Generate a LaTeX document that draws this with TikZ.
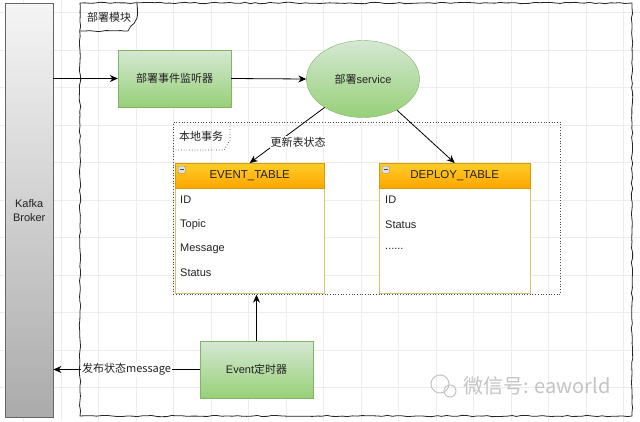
\documentclass[tikz,border=0pt]{standalone}
\usepackage{fontspec}
\setmainfont{Liberation Sans}
\newfontfamily\cjk{Noto Sans CJK SC}
\usetikzlibrary{arrows.meta,shapes.geometric,decorations.pathmorphing,calc}
\definecolor{gridc}{HTML}{EDEDED}
\definecolor{txt}{HTML}{222222}
\definecolor{gstroke}{HTML}{82B366}
\definecolor{gtop}{HTML}{D5E8D4}
\definecolor{gbot}{HTML}{97D077}
\definecolor{otop}{HTML}{FFCD28}
\definecolor{obot}{HTML}{FFA500}
\definecolor{ostroke}{HTML}{D79B00}
\definecolor{tbody}{HTML}{D6C66A}
\definecolor{wm}{HTML}{C4C4C4}
\tikzset{
  greenbox/.style={draw=gstroke, top color=gtop, bottom color=gbot, minimum width=113pt, minimum height=57pt, inner sep=0pt, font=\fontsize{11}{13}\selectfont, text=txt},
  greenell/.style={ellipse, draw=gstroke, top color=gtop, bottom color=gbot, minimum width=113pt, minimum height=77pt, inner sep=0pt, font=\fontsize{11}{13}\selectfont, text=txt},
  thead/.style={draw=ostroke, top color=otop, bottom color=obot, inner sep=0pt, font=\fontsize{11.5}{13}\selectfont, text=txt},
  tbodybox/.style={draw=tbody, fill=white, inner sep=0pt},
  rowtxt/.style={anchor=west, inner sep=0pt, font=\fontsize{11}{13}\selectfont, text=txt},
  conn/.style={draw=black, line width=0.8pt, -{Stealth[length=8pt,width=7pt]}},
  lbl/.style={fill=white, inner sep=1pt, font=\fontsize{11}{13}\selectfont, text=txt},
  sketch/.style={draw=black!85, line width=0.8pt, decorate, decoration={random steps, segment length=5pt, amplitude=0.7pt}},
}
\begin{document}
\begin{tikzpicture}[x=1pt,y=-1pt]
\useasboundingbox (0,0) rectangle (640,421);
\fill[white] (0,0) rectangle (640,421);
% grid
\foreach \i in {0,...,16} \draw[gridc, line width=0.6pt] ({23.5+37.5*\i},0) -- ({23.5+37.5*\i},421);
\foreach \j in {0,...,10} \draw[gridc, line width=0.6pt] (0,{12.5+37.5*\j}) -- (640,{12.5+37.5*\j});
% Kafka broker
\node[draw=black!60, top color=black!4, bottom color=black!33, minimum width=48pt, minimum height=414pt, inner sep=0pt, anchor=north west, align=center, font=\fontsize{11}{14}\selectfont, text=txt] (kafka) at (5,3) {Kafka\\Broker};
% module frame
\pgfmathsetseed{7}
\coordinate (fnw) at (80,3);
\coordinate (fse) at (632,416);
\draw[sketch] (fnw) -- (fnw -| fse) -- (fse) -- (fse -| fnw) -- cycle;
\draw[sketch] (80,31) -- (128,31) -- (137,18) -- (137,3);
\node[anchor=west, inner sep=0pt, font=\cjk\fontsize{11}{13}\selectfont, text=txt] (modlbl) at (87,17) {部署模块};
% local transaction box
\node[draw=black!70, dotted, line width=0.7pt, minimum width=387pt, minimum height=172pt, anchor=north west, inner sep=0pt] (tx) at (173,122) {};
\draw[black!70, dotted, line width=0.7pt] (173,150) -- (224,150) -- (230,140) -- (230,122);
\node[anchor=west, inner sep=0pt, font=\cjk\fontsize{11}{13}\selectfont, text=txt] (txlbl) at (179,136) {本地事务};
% listener and service
\node[greenbox] (listener) at (174.5,78.5) {\cjk 部署事件监听器};
\node[greenell] (service) at (363,79) {{\cjk 部署}service};
% event table
\node[tbodybox, minimum width=149pt, minimum height=105pt, anchor=north west] (evbody) at (175,188) {};
\node[thead, minimum width=149pt, minimum height=25pt, anchor=north west] (evhead) at (175,163) {EVENT\_TABLE};
\node[rowtxt] (ev1) at (180,200) {ID};
\node[rowtxt] (ev2) at (180,225) {Topic};
\node[rowtxt] (ev3) at (180,249) {Message};
\node[rowtxt] (ev4) at (180,273) {Status};
% deploy table
\node[tbodybox, minimum width=151pt, minimum height=105pt, anchor=north west] (dpbody) at (379,188) {};
\node[thead, minimum width=151pt, minimum height=25pt, anchor=north west] (dphead) at (379,163) {DEPLOY\_TABLE};
\node[rowtxt] (dp1) at (385,200) {ID};
\node[rowtxt] (dp2) at (385,225) {Status};
\node[rowtxt] (dp3) at (385,249) {......};
% minus icons
\foreach \n/\x in {evmin/178, dpmin/382} {
  \node[draw=black!45, fill=black!12, rounded corners=1pt, minimum width=7pt, minimum height=7pt, inner sep=0pt, anchor=north west] (\n) at (\x,166) {};
  \draw[black!70, line width=0.7pt] ($(\n.west)+(1.5,0)$) -- ($(\n.east)+(-1.5,0)$);
}
% timer
\node[greenbox] (timer) at (256.5,369.5) {Event{\cjk 定时器}};
% connectors
\draw[conn] (kafka.east |- listener.west) -- (listener.west);
\draw[conn] (listener.east) -- (service.west);
\draw[conn] (service) -- node[lbl, pos=0.62, xshift=20pt, font=\cjk\fontsize{11}{13}\selectfont] (updlbl) {更新表状态} (evhead.north);
\draw[conn] (service) -- (dphead.north);
\draw[conn] (timer.north) -- (timer.north |- tx.south);
\draw[conn] (timer.west) -- node[lbl, font=\cjk\fontsize{11}{13}\selectfont] (publbl) {发布状态message} (kafka.east |- timer.west);
% watermark
\node[anchor=west, inner sep=0pt, font=\cjk\fontsize{20}{22}\selectfont, text=wm] (wmark) at (463,386) {微信号: eaworld};
\draw[wm, line width=1pt] (440,384) circle (9pt);
\draw[wm, line width=1pt] (450,391) circle (6pt);
\end{tikzpicture}
\end{document}
